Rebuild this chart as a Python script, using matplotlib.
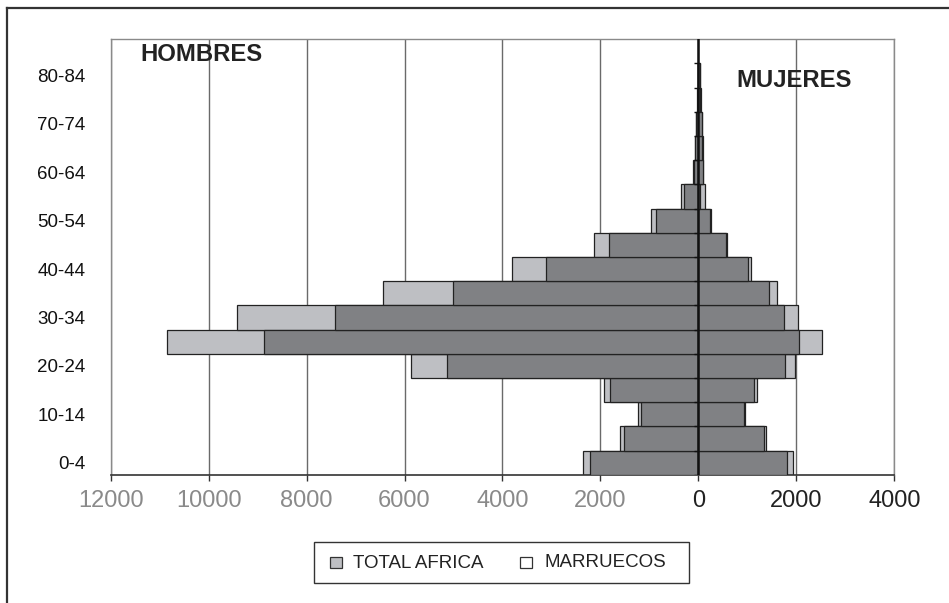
import matplotlib
matplotlib.use('Agg')
import matplotlib.pyplot as plt
from matplotlib.patches import Rectangle
from matplotlib.lines import Line2D
import numpy as np

plt.rcParams['font.family'] = ['Liberation Sans', 'DejaVu Sans']

age_groups = ['0-4', '5-9', '10-14', '15-19', '20-24', '25-29', '30-34', '35-39',
              '40-44', '45-49', '50-54', '55-59', '60-64', '65-69', '70-74',
              '75-79', '80-84']

# light bars (behind) and dark bars (front)
men_total = [2360, 1610, 1235, 1930, 5865, 10860, 9415, 6435, 3805, 2135,
             975, 348, 115, 75, 55, 20, 10]
men_marr = [2215, 1520, 1175, 1815, 5135, 8865, 7415, 5020, 3110, 1830,
            860, 295, 95, 60, 45, 15, 8]
women_total = [1935, 1390, 955, 1200, 1975, 2520, 2025, 1595, 1075, 580,
               265, 135, 100, 95, 80, 45, 40]
women_marr = [1800, 1340, 935, 1135, 1770, 2060, 1740, 1450, 1020, 565,
              230, 40, 85, 80, 70, 40, 35]

x_ticks = [-12000, -10000, -8000, -6000, -4000, -2000, 0, 2000, 4000]

LIGHT = '#bebfc3'
DARK = '#808184'
EDGE = '#222222'

W, H = 949, 603
fig = plt.figure(figsize=(W / 100, H / 100), dpi=100)
ax = fig.add_axes([110.7 / W, 1 - 474.7 / H, (894.3 - 110.7) / W, (474.7 - 39.3) / H])

y = np.arange(len(age_groups))
ax.barh(y, [-v for v in men_total], height=1.0, color=LIGHT, edgecolor=EDGE, lw=0.9, zorder=2)
ax.barh(y, women_total, height=1.0, color=LIGHT, edgecolor=EDGE, lw=0.9, zorder=2)
ax.barh(y, [-v for v in men_marr], height=1.0, color=DARK, edgecolor=EDGE, lw=0.9, zorder=3)
ax.barh(y, women_marr, height=1.0, color=DARK, edgecolor=EDGE, lw=0.9, zorder=3)

ax.set_xlim(-12000, 4000)
ax.set_ylim(-0.5, 17.5)

# vertical grid
for xv in x_ticks:
    ax.axvline(xv, color='#6a6a6a', lw=1.0, zorder=1)

# central axis with little ticks at category boundaries
ax.axvline(0, color='#111111', lw=1.8, zorder=5)
ax.hlines(np.arange(-0.5, len(age_groups)), -90, 0, color='#111111', lw=1.0, zorder=5)

ax.set_xticks(x_ticks)
ax.set_xticklabels([str(abs(v)) for v in x_ticks])
for lab, v in zip(ax.get_xticklabels(), x_ticks):
    lab.set_color('#8a8a8a' if v < 0 else '#222222')
ax.tick_params(axis='x', direction='out', length=4, width=1, color='#333333',
               labelsize=17, pad=7)

ax.set_yticks(y[::2])
ax.set_yticklabels(age_groups[::2])
ax.tick_params(axis='y', length=0, labelsize=13.5, pad=18, labelcolor='#111111')

for s in ['top', 'left', 'right']:
    ax.spines[s].set_color('#8a8a8a')
    ax.spines[s].set_linewidth(1.0)
ax.spines['bottom'].set_color('#333333')
ax.spines['bottom'].set_linewidth(1.2)

ax.text(0.0374, 0.964, 'HOMBRES', transform=ax.transAxes, fontsize=17.2,
        fontweight='bold', color='#222222', ha='left', va='center')
ax.text(0.799, 0.9065, 'MUJERES', transform=ax.transAxes, fontsize=17.2,
        fontweight='bold', color='#222222', ha='left', va='center')

# legend drawn in pixel coords of the figure
def fx(px):
    return px / W

def fy(py):
    return 1 - py / H

fig.patches.append(Rectangle((fx(314), fy(582.7)), fx(689.3) - fx(314), fy(541.7) - fy(582.7),
                             transform=fig.transFigure, fill=False, edgecolor='#333333', lw=1.0))
fig.patches.append(Rectangle((fx(330), fy(568.3)), fx(341.7) - fx(330), fy(556.7) - fy(568.3),
                             transform=fig.transFigure, facecolor=LIGHT, edgecolor='#333333', lw=0.9))
fig.patches.append(Rectangle((fx(520), fy(568.3)), fx(531.5) - fx(520), fy(556.7) - fy(568.3),
                             transform=fig.transFigure, facecolor='white', edgecolor='#333333', lw=0.9))
fig.text(fx(353), fy(563.5), 'TOTAL AFRICA', fontsize=13.5, color='#222222', ha='left', va='center')
fig.text(fx(545), fy(562.5), 'MARRUECOS', fontsize=13.5, color='#222222', ha='left', va='center')

# outer frame (cut by the picture edges)
fig.add_artist(Line2D([fx(7), fx(7)], [fy(8), 0], transform=fig.transFigure, color='#333333', lw=1.6))
fig.add_artist(Line2D([fx(7), 1], [fy(8), fy(8)], transform=fig.transFigure, color='#333333', lw=1.6))

fig.savefig('out.png', dpi=100)
